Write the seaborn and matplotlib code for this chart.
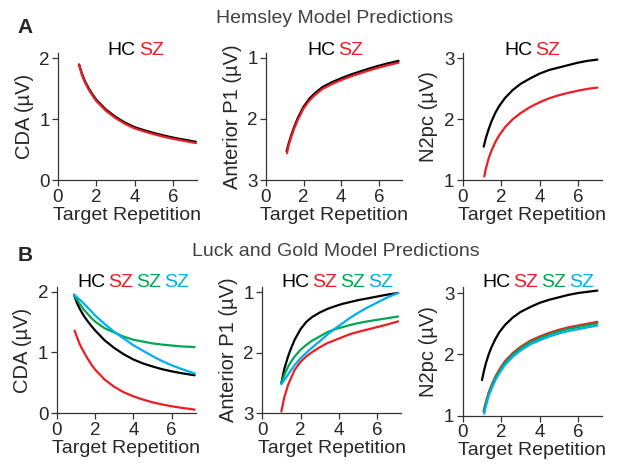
import matplotlib
matplotlib.use("Agg")
import matplotlib.pyplot as plt
import seaborn as sns
import pandas as pd
from matplotlib.offsetbox import TextArea, HPacker, AnchoredOffsetbox

sns.set_style("ticks")
plt.rcParams['font.family'] = ['Liberation Sans', 'DejaVu Sans']

BLACK = '#000000'
RED = '#ee1c24'
GREEN = '#00a651'
BLUE = '#00aeef'

# ---- A: Hemsley model ----
a_cda_x = [1.1, 1.25, 1.4, 1.6, 1.8, 2.0, 2.5, 3.0, 3.5, 4.0, 4.5, 5.0, 5.5, 6.0, 6.5, 7.2]
a_cda_hc = [1.90, 1.75, 1.63, 1.51, 1.41, 1.32, 1.16, 1.04, 0.945, 0.87, 0.82, 0.775, 0.735, 0.70, 0.67, 0.63]
a_cda_sz = [1.89, 1.73, 1.61, 1.49, 1.39, 1.30, 1.14, 1.02, 0.925, 0.85, 0.80, 0.755, 0.715, 0.68, 0.65, 0.61]

a_p1_x_hc = [1.1, 1.2, 1.35, 1.5, 1.7, 2.0, 2.3, 2.6, 3.0, 3.5, 4.0, 4.5, 5.0, 5.5, 6.0, 6.5, 7.05]
a_p1_x_sz = [1.12, 1.2, 1.35, 1.5, 1.7, 2.0, 2.3, 2.6, 3.0, 3.5, 4.0, 4.5, 5.0, 5.5, 6.0, 6.5, 7.05]
a_p1_hc = [2.53, 2.41, 2.26, 2.13, 1.98, 1.80, 1.67, 1.58, 1.48, 1.40, 1.335, 1.275, 1.225, 1.175, 1.13, 1.09, 1.05]
a_p1_sz = [2.56, 2.44, 2.29, 2.16, 2.01, 1.83, 1.70, 1.61, 1.51, 1.43, 1.365, 1.305, 1.255, 1.205, 1.16, 1.12, 1.08]

a_n2_x_hc = [1.09, 1.2, 1.35, 1.5, 1.7, 1.9, 2.2, 2.6, 3.0, 3.5, 4.0, 4.5, 5.0, 5.5, 6.0, 6.5, 7.0]
a_n2_x_sz = [1.12, 1.2, 1.35, 1.5, 1.7, 1.9, 2.2, 2.6, 3.0, 3.5, 4.0, 4.5, 5.0, 5.5, 6.0, 6.5, 7.0]
a_n2_hc = [1.55, 1.69, 1.84, 1.97, 2.11, 2.22, 2.35, 2.48, 2.58, 2.67, 2.75, 2.81, 2.85, 2.89, 2.93, 2.96, 2.98]
a_n2_sz = [1.06, 1.19, 1.36, 1.49, 1.63, 1.74, 1.87, 2.00, 2.10, 2.20, 2.28, 2.345, 2.395, 2.435, 2.47, 2.50, 2.52]

# ---- B: Luck and Gold model ----
b_cda_x = [0.9, 1.05, 1.2, 1.4, 1.6, 1.8, 2.0, 2.5, 3.0, 3.5, 4.0, 4.5, 5.0, 5.5, 6.0, 6.5, 7.2]
b_cda_x_red = [0.93, 1.05, 1.2, 1.4, 1.6, 1.8, 2.0, 2.5, 3.0, 3.5, 4.0, 4.5, 5.0, 5.5, 6.0, 6.5, 7.2]
b_cda_hc = [1.95, 1.82, 1.72, 1.61, 1.52, 1.44, 1.365, 1.20, 1.075, 0.97, 0.885, 0.82, 0.77, 0.725, 0.69, 0.66, 0.625]
b_cda_red = [1.36, 1.26, 1.135, 1.015, 0.905, 0.805, 0.72, 0.555, 0.435, 0.345, 0.28, 0.225, 0.18, 0.145, 0.115, 0.09, 0.06]
b_cda_green = [1.95, 1.87, 1.80, 1.71, 1.64, 1.57, 1.51, 1.40, 1.33, 1.26, 1.21, 1.18, 1.15, 1.13, 1.115, 1.10, 1.09]
b_cda_blue = [1.95, 1.91, 1.87, 1.81, 1.745, 1.68, 1.61, 1.47, 1.34, 1.23, 1.12, 1.03, 0.94, 0.86, 0.79, 0.73, 0.655]

b_p1_x = [1.0, 1.15, 1.35, 1.5, 1.7, 2.0, 2.3, 2.6, 3.0, 3.4, 3.8, 4.2, 4.6, 5.0, 5.5, 6.0, 6.5, 7.1]
b_p1_hc = [2.50, 2.27, 2.06, 1.93, 1.78, 1.61, 1.49, 1.41, 1.335, 1.275, 1.23, 1.19, 1.16, 1.13, 1.10, 1.07, 1.04, 1.01]
b_p1_red = [2.97, 2.74, 2.53, 2.42, 2.28, 2.15, 2.06, 1.99, 1.91, 1.84, 1.79, 1.74, 1.69, 1.655, 1.615, 1.575, 1.535, 1.48]
b_p1_green = [2.50, 2.37, 2.23, 2.15, 2.06, 1.95, 1.87, 1.80, 1.73, 1.66, 1.61, 1.575, 1.54, 1.51, 1.48, 1.455, 1.43, 1.40]
b_p1_blue = [2.52, 2.45, 2.36, 2.29, 2.20, 2.09, 2.00, 1.915, 1.81, 1.70, 1.60, 1.51, 1.42, 1.34, 1.25, 1.17, 1.09, 1.01]

b_n2_x_hc = [1.0, 1.1, 1.2, 1.35, 1.5, 1.7, 1.9, 2.2, 2.6, 3.0, 3.5, 4.0, 4.5, 5.0, 5.5, 6.0, 6.5, 7.0]
b_n2_x_sz = [1.2, 1.35, 1.5, 1.7, 1.9, 2.2, 2.6, 3.0, 3.5, 4.0, 4.5, 5.0, 5.5, 6.0, 6.5, 7.0]
b_n2_hc = [1.58, 1.725, 1.85, 2.00, 2.12, 2.25, 2.36, 2.48, 2.60, 2.69, 2.77, 2.84, 2.89, 2.93, 2.97, 3.00, 3.02, 3.04]
b_n2_red_start, b_n2_green_start, b_n2_blue_start = (1.08, 1.07), (1.10, 1.06), (1.12, 1.03)
b_n2_red = [1.22, 1.38, 1.50, 1.64, 1.75, 1.89, 2.02, 2.12, 2.22, 2.29, 2.35, 2.40, 2.44, 2.47, 2.50, 2.53]
b_n2_green = [1.19, 1.355, 1.475, 1.615, 1.725, 1.865, 1.995, 2.095, 2.195, 2.265, 2.325, 2.375, 2.415, 2.445, 2.475, 2.505]
b_n2_blue = [1.15, 1.32, 1.44, 1.58, 1.69, 1.83, 1.96, 2.06, 2.16, 2.23, 2.29, 2.34, 2.38, 2.41, 2.44, 2.47]

xticks = [0, 2, 4, 6]
spine_col = '#333333'


def make_df(series):
    rows = []
    for name, xs, ys in series:
        for x, y in zip(xs, ys):
            rows.append({'rep': x, 'amp': y, 'group': name})
    return pd.DataFrame(rows)


def panel(ax, series, palette, ylabel, ylim, yticks):
    df = make_df(series)
    sns.lineplot(data=df, x='rep', y='amp', hue='group', palette=palette,
                 hue_order=[s[0] for s in series], estimator=None, sort=False,
                 linewidth=1.6, legend=False, ax=ax)
    ax.set_xlim(0, 7.25)
    ax.set_ylim(*ylim)
    ax.set_xticks(xticks)
    ax.set_yticks(yticks)
    ax.set_xlabel('Target Repetition', fontsize=14, labelpad=1)
    ax.set_ylabel(ylabel, fontsize=14.5, labelpad=4)
    ax.tick_params(labelsize=13.5, length=4, width=0.9, color=spine_col, pad=2)
    for s in ['left', 'bottom']:
        ax.spines[s].set_color(spine_col)
        ax.spines[s].set_linewidth(0.9)
    sns.despine(ax=ax)


def group_title(ax, words, colors, xpos=0.5, ypos=0.95):
    boxes = [TextArea(w, textprops=dict(color=c, size=14)) for w, c in zip(words, colors)]
    pack = HPacker(children=boxes, align='baseline', pad=0, sep=2)
    anch = AnchoredOffsetbox(loc='lower center', child=pack, pad=0, borderpad=0,
                             bbox_to_anchor=(xpos, ypos), bbox_transform=ax.transAxes,
                             frameon=False)
    ax.add_artist(anch)


fig = plt.figure(figsize=(6.17, 4.68), dpi=100)

ax1 = fig.add_axes([0.094, 0.615, 0.225, 0.272])
ax2 = fig.add_axes([0.431, 0.615, 0.221, 0.272])
ax3 = fig.add_axes([0.750, 0.615, 0.226, 0.272])
ax4 = fig.add_axes([0.092, 0.117, 0.225, 0.270])
ax5 = fig.add_axes([0.425, 0.117, 0.225, 0.270])
ax6 = fig.add_axes([0.750, 0.112, 0.226, 0.275])

pal2 = {'HC': BLACK, 'SZ': RED}
pal4 = {'HC': BLACK, 'SZ1': RED, 'SZ2': GREEN, 'SZ3': BLUE}

panel(ax1, [('HC', a_cda_x, a_cda_hc), ('SZ', a_cda_x, a_cda_sz)], pal2,
      'CDA (µV)', (0, 2.09), [0, 1, 2])
panel(ax2, [('HC', a_p1_x_hc, a_p1_hc), ('SZ', a_p1_x_sz, a_p1_sz)], pal2,
      'Anterior P1 (µV)', (3.0, 0.92), [1, 2, 3])
panel(ax3, [('HC', a_n2_x_hc, a_n2_hc), ('SZ', a_n2_x_sz, a_n2_sz)], pal2,
      'N2pc (µV)', (1.0, 3.09), [1, 2, 3])

panel(ax4, [('HC', b_cda_x, b_cda_hc), ('SZ2', b_cda_x, b_cda_green),
            ('SZ3', b_cda_x, b_cda_blue), ('SZ1', b_cda_x_red, b_cda_red)], pal4,
      'CDA (µV)', (0, 2.08), [0, 1, 2])
panel(ax5, [('HC', b_p1_x, b_p1_hc), ('SZ2', b_p1_x, b_p1_green),
            ('SZ3', b_p1_x, b_p1_blue), ('SZ1', b_p1_x, b_p1_red)], pal4,
      'Anterior P1 (µV)', (3.0, 0.91), [1, 2, 3])
panel(ax6, [('HC', b_n2_x_hc, b_n2_hc),
            ('SZ1', [b_n2_red_start[0]] + b_n2_x_sz, [b_n2_red_start[1]] + b_n2_red),
            ('SZ2', [b_n2_green_start[0]] + b_n2_x_sz, [b_n2_green_start[1]] + b_n2_green),
            ('SZ3', [b_n2_blue_start[0]] + b_n2_x_sz, [b_n2_blue_start[1]] + b_n2_blue)], pal4,
      'N2pc (µV)', (1.0, 3.1), [1, 2, 3])

for ax, xp in [(ax1, 0.56), (ax2, 0.51), (ax3, 0.5)]:
    group_title(ax, ['HC', 'SZ'], [BLACK, RED], xpos=xp, ypos=0.95)
for ax, xp in [(ax4, 0.55), (ax5, 0.54), (ax6, 0.54)]:
    group_title(ax, ['HC', 'SZ', 'SZ', 'SZ'], [BLACK, RED, GREEN, BLUE], xpos=xp, ypos=0.97)

fig.text(0.028, 0.929, 'A', fontsize=15, fontweight='bold', va='baseline')
fig.text(0.028, 0.442, 'B', fontsize=15, fontweight='bold', va='baseline')
fig.text(0.543, 0.951, 'Hemsley Model Predictions', fontsize=14, color='#404040',
         ha='center', va='baseline')
fig.text(0.545, 0.453, 'Luck and Gold Model Predictions', fontsize=14, color='#404040',
         ha='center', va='baseline')

fig.savefig('out.png', dpi=100)
